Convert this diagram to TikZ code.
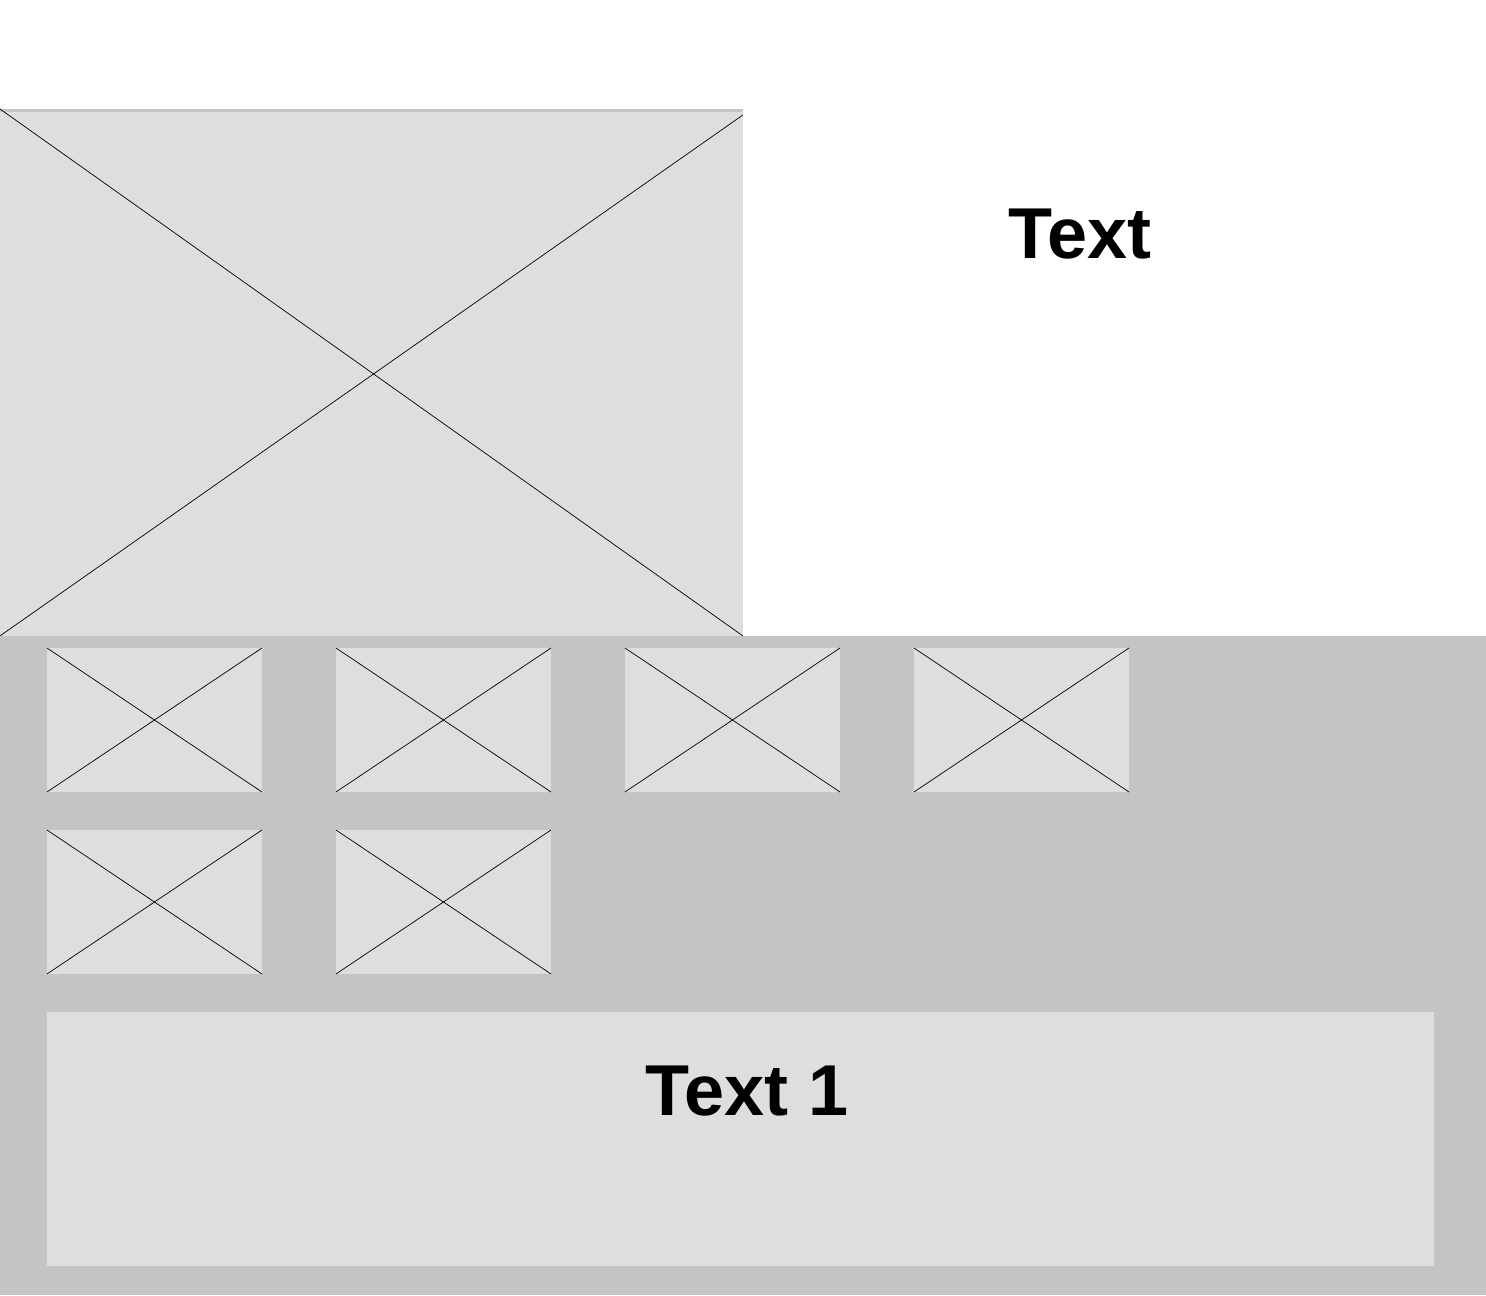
\documentclass[tikz,border=0pt]{standalone}
\usepackage{fontspec}
\setmainfont{Liberation Sans}
\usepackage{tikz}
\usetikzlibrary{positioning}
\definecolor{phfill}{HTML}{DEDEDE}
\definecolor{panelgray}{HTML}{C4C4C4}

\begin{document}
\begin{tikzpicture}[
  x=0.02cm,y=-0.02cm,
  ph/.style={fill=phfill,draw=none,inner sep=0pt,outer sep=0pt,anchor=north west},
  thumb/.style={ph,minimum width=4.3cm,minimum height=2.88cm},
  xline/.style={draw=black,line width=0.4pt},
  ttl/.style={font=\fontsize{41}{49}\selectfont\bfseries,anchor=base,inner sep=0pt}
]
\useasboundingbox (0,0) rectangle (1486,1295);

% ---- hero image + title
\node[ph,minimum width=14.86cm,minimum height=10.54cm] (hero) at (0,109) {};
\fill[panelgray] (hero.north west) rectangle ([yshift=-0.05cm]hero.north east);
\draw[xline] (hero.north west) -- (hero.south east);
\draw[xline] (hero.south west) -- ([yshift=-0.12cm]hero.north east);
\node[ttl] (title) at (1080,258) {Text};

% ---- bottom panel with thumbnails
\node[anchor=north west,fill=panelgray,inner sep=0pt,outer sep=0pt,minimum width=29.72cm,minimum height=13.18cm] (panel) at (0,636) {};
\node[thumb] (t1) at (47,648) {};
\node[thumb] (t2) at (336,648) {};
\node[thumb] (t3) at (625,648) {};
\node[thumb] (t4) at (914,648) {};
\node[thumb] (t5) at (47,830) {};
\node[thumb] (t6) at (336,830) {};
\foreach \t in {t1,t2,t3,t4,t5,t6}{
  \draw[xline] (\t.north west) -- (\t.south east);
  \draw[xline] (\t.south west) -- (\t.north east);
}

% ---- caption box
\node[ph,minimum width=27.74cm,minimum height=5.08cm] (capbox) at (47,1012) {};
\node[ttl] (caption) at (747,1115) {Text 1};
\end{tikzpicture}
\end{document}
